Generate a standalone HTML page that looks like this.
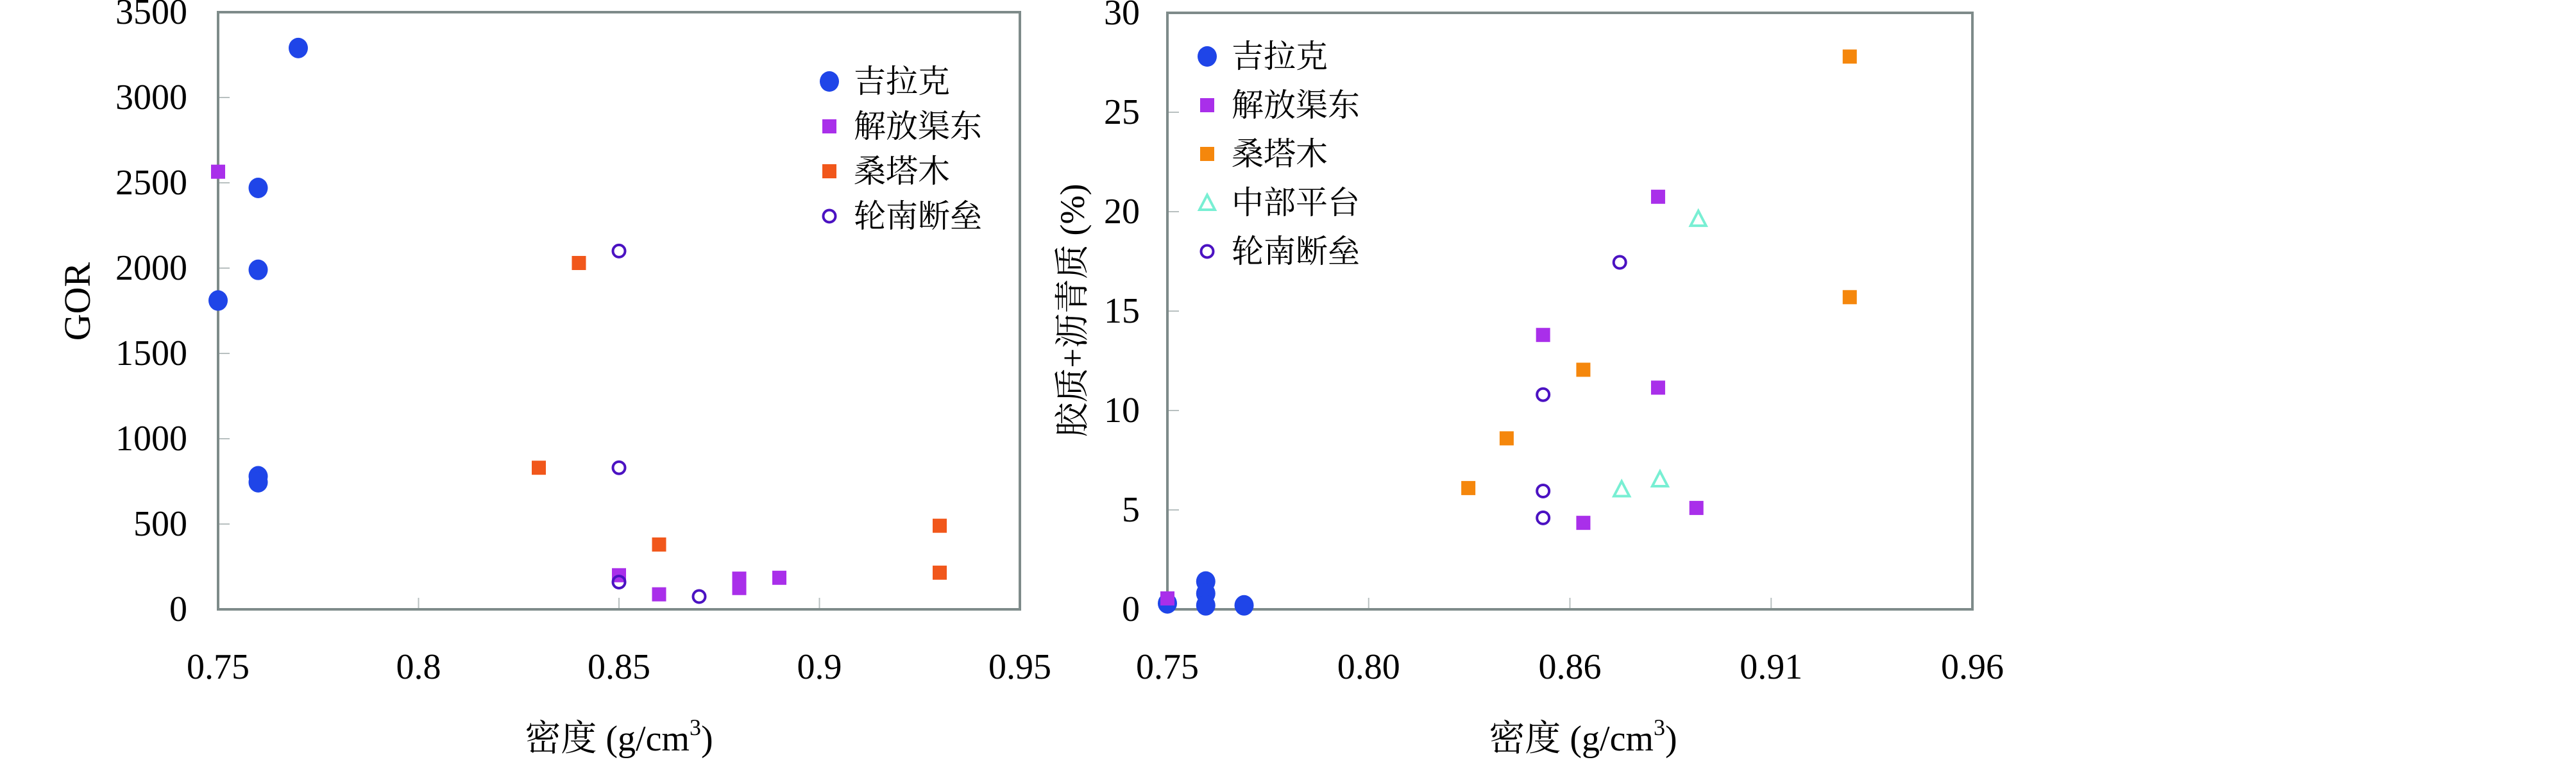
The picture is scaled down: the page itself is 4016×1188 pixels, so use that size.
<!DOCTYPE html>
<html><head><meta charset="utf-8">
<style>
html,body{margin:0;padding:0;background:#fff;}
svg{display:block;}
text{font-family:"Liberation Serif","Noto Serif CJK SC","Noto Sans CJK SC",serif;fill:#000;}
</style></head>
<body>
<svg id="chart" width="4016" height="1188" viewBox="0 0 4016 1188" xmlns="http://www.w3.org/2000/svg"></svg>
<script>
// ---- Left chart data (GOR vs density) ----
const leftXTicks = [0.75, 0.8, 0.85, 0.9, 0.95];
const leftXTickLabels = ["0.75", "0.8", "0.85", "0.9", "0.95"];
const leftYTicks = [0, 500, 1000, 1500, 2000, 2500, 3000, 3500];
const leftYTickLabels = ["0", "500", "1000", "1500", "2000", "2500", "3000", "3500"];
const leftJilakeX = [0.77, 0.76, 0.76, 0.75, 0.76, 0.76];
const leftJilakeY = [3290, 2470, 1990, 1810, 780, 745];
const leftJiefangX = [0.75, 0.85, 0.86, 0.88, 0.88, 0.89];
const leftJiefangY = [2565, 200, 88, 180, 125, 185];
const leftSangtamuX = [0.84, 0.83, 0.86, 0.93, 0.93];
const leftSangtamuY = [2030, 830, 380, 490, 215];
const leftLunnanX = [0.85, 0.85, 0.85, 0.87];
const leftLunnanY = [2100, 830, 160, 75];

// ---- Right chart data (resin+asphaltene vs density) ----
const rightXTickLabels = ["0.75", "0.80", "0.86", "0.91", "0.96"];
const rightYTicks = [0, 5, 10, 15, 20, 25, 30];
const rightYTickLabels = ["0", "5", "10", "15", "20", "25", "30"];
const rightJilakeX = [0.75, 0.76, 0.76, 0.76, 0.77];
const rightJilakeY = [0.3, 1.4, 0.8, 0.2, 0.2];
const rightJiefangX = [0.75, 0.848, 0.878, 0.878, 0.8585, 0.888];
const rightJiefangY = [0.55, 13.8, 20.75, 11.15, 4.35, 5.1];
const rightSangtamuX = [0.928, 0.928, 0.8585, 0.8385, 0.8285];
const rightSangtamuY = [27.8, 15.7, 12.05, 8.6, 6.1];
const rightZhongbuX = [0.8885, 0.8685, 0.8785];
const rightZhongbuY = [19.65, 6.05, 6.55];
const rightLunnanX = [0.868, 0.848, 0.848, 0.848];
const rightLunnanY = [17.45, 10.8, 5.95, 4.6];

const NS = "http://www.w3.org/2000/svg";
const svg = document.getElementById("chart");
function el(tag, attrs, parent, txt){
  const e = document.createElementNS(NS, tag);
  for (const k in attrs) e.setAttribute(k, attrs[k]);
  if (txt !== undefined) e.textContent = txt;
  (parent || svg).appendChild(e);
  return e;
}
const C = {blue:"#1f45e8", purple:"#a92fea", red:"#f1571b", orange:"#f5870c", cyan:"#78efd3", dark:"#4b12c2"};

function marker(g, kind, color, cx, cy, name){
  let m;
  if (kind === "dot") m = el("ellipse", {cx:cx, cy:cy, rx:15, ry:16, fill:color}, g);
  else if (kind === "sq") m = el("rect", {x:cx-11, y:cy-11, width:22, height:22, fill:color}, g);
  else if (kind === "ring") m = el("circle", {cx:cx, cy:cy, r:9.5, fill:"none", stroke:color, "stroke-width":4}, g);
  else m = el("polygon", {points:(cx-12)+","+(cy+11)+" "+cx+","+(cy-12)+" "+(cx+12)+","+(cy+11), fill:"none", stroke:color, "stroke-width":4}, g);
  
  
  return m;
}

function drawChart(cfg){
  const g = el("g", {});
  
  
  const sx = v => cfg.x0 + (v - cfg.xmin) / (cfg.xmax - cfg.xmin) * (cfg.x1 - cfg.x0);
  const sy = v => cfg.y1 - (v - cfg.ymin) / (cfg.ymax - cfg.ymin) * (cfg.y1 - cfg.y0);
  // ticks
  cfg.yTicks.forEach((t, i) => {
    const y = sy(t);
    if (i > 0 && i < cfg.yTicks.length - 1) {
      const tk = el("line", {x1:cfg.x0, x2:cfg.x0+18, y1:y, y2:y, stroke:"#b8c0c0", "stroke-width":2}, g);
      
      
    }
    const lb = el("text", {x:cfg.yLabelX, y:y+18, "text-anchor":"end", "font-size":56}, g, cfg.yLabels[i]);
    
    
  });
  cfg.xLabels.forEach((lab, i) => {
    const v = cfg.xmin + i * (cfg.xmax - cfg.xmin) / (cfg.xLabels.length - 1);
    const x = sx(v);
    if (i > 0 && i < cfg.xLabels.length - 1) {
      const tk = el("line", {x1:x, x2:x, y1:cfg.y1, y2:cfg.y1-18, stroke:"#b8c0c0", "stroke-width":2}, g);
      
      
    }
    const lb = el("text", {x:x, y:1058, "text-anchor":"middle", "font-size":56}, g, lab);
    
    
  });
  // frame
  const fr = el("rect", {x:cfg.x0, y:cfg.y0, width:cfg.x1-cfg.x0, height:cfg.y1-cfg.y0, fill:"none", stroke:"#7e8b8a", "stroke-width":4}, g);
  
  
  // series
  cfg.series.forEach(s => {
    const sg = el("g", {}, g);
    
    
    s.xs.forEach((xv, i) => marker(sg, s.kind, s.color, sx(xv), sy(s.ys[i]), s.name + '-point'));
  });
  // legend
  const lg = el("g", {}, g);
  
  
  cfg.series.forEach((s, i) => {
    const y = cfg.legY + i * cfg.legDy;
    const eg = el("g", {}, lg);
    
    
    marker(eg, s.kind, s.color, cfg.legX, y, 'legend-marker');
    const t = el("text", {x:cfg.legX+38, y:y+17, "font-size":50}, eg, s.label);
    
    
  });
  // axis titles
  const xt = el("text", {x:cfg.xTitleX, y:1170, "text-anchor":"middle", "font-size":56}, g);
  
  
  el("tspan", {}, xt, "密度 (g/cm");
  el("tspan", {dy:-24, "font-size":36}, xt, "3");
  el("tspan", {dy:24}, xt, ")");
  const yt = el("text", {x:0, y:0, "text-anchor":"middle", "font-size":cfg.yTitleSize, transform:"translate("+cfg.yTitleX+","+cfg.yTitleY+") rotate(-90)"}, g, cfg.yTitle);
  
  
}

drawChart({
  name:"gor-chart", x0:340, x1:1590, y0:19, y1:950,
  xmin:0.75, xmax:0.95, ymin:0, ymax:3500,
  yTicks:leftYTicks, yLabels:leftYTickLabels, xLabels:leftXTickLabels, yLabelX:292,
  xTitleX:965, yTitle:"GOR", yTitleX:140, yTitleY:470, yTitleSize:58,
  legX:1293, legY:127, legDy:70,
  series:[
    {name:"jilake", label:"吉拉克", kind:"dot", color:C.blue, xs:leftJilakeX, ys:leftJilakeY},
    {name:"jiefangqudong", label:"解放渠东", kind:"sq", color:C.purple, xs:leftJiefangX, ys:leftJiefangY},
    {name:"sangtamu", label:"桑塔木", kind:"sq", color:C.red, xs:leftSangtamuX, ys:leftSangtamuY},
    {name:"lunnan", label:"轮南断垒", kind:"ring", color:C.dark, xs:leftLunnanX, ys:leftLunnanY}
  ]
});
drawChart({
  name:"resin-chart", x0:1820, x1:3075, y0:20, y1:950,
  xmin:0.75, xmax:0.96, ymin:0, ymax:30,
  yTicks:rightYTicks, yLabels:rightYTickLabels, xLabels:rightXTickLabels, yLabelX:1777,
  xTitleX:2468, yTitle:"胶质+沥青质 (%)", yTitleX:1690, yTitleY:484, yTitleSize:54,
  legX:1882, legY:88, legDy:76,
  series:[
    {name:"jilake", label:"吉拉克", kind:"dot", color:C.blue, xs:rightJilakeX, ys:rightJilakeY},
    {name:"jiefangqudong", label:"解放渠东", kind:"sq", color:C.purple, xs:rightJiefangX, ys:rightJiefangY},
    {name:"sangtamu", label:"桑塔木", kind:"sq", color:C.orange, xs:rightSangtamuX, ys:rightSangtamuY},
    {name:"zhongbu", label:"中部平台", kind:"tri", color:C.cyan, xs:rightZhongbuX, ys:rightZhongbuY},
    {name:"lunnan", label:"轮南断垒", kind:"ring", color:C.dark, xs:rightLunnanX, ys:rightLunnanY}
  ]
});
</script>
</body></html>
